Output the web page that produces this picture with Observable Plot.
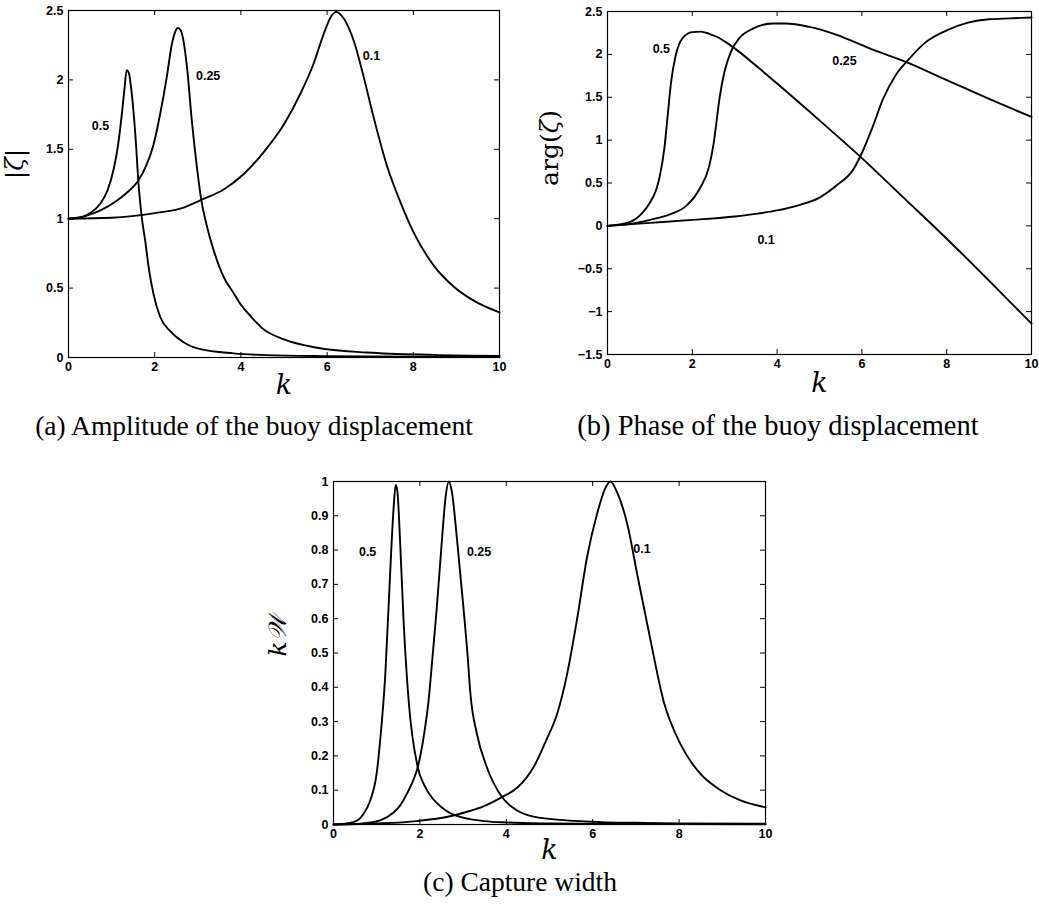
<!DOCTYPE html>
<html><head><meta charset="utf-8">
<script src="https://cdn.jsdelivr.net/npm/d3@7"></script>
<script src="https://cdn.jsdelivr.net/npm/@observablehq/plot@0.6"></script>
<style>
body{margin:0;background:#fff;width:1039px;height:908px;position:relative;overflow:hidden}
.panel{position:absolute}
.cap{position:absolute;font-family:"Liberation Serif",serif;font-size:27.5px;color:#000;white-space:nowrap;line-height:1;transform:translate(-50%,-50%)}
</style></head><body>
<div id="pa" class="panel" style="left:0;top:0"></div>
<div id="pb" class="panel" style="left:519px;top:0"></div>
<div id="pc" class="panel" style="left:250px;top:440px"></div>
<div class="cap" style="left:254px;top:426px">(a) Amplitude of the buoy displacement</div>
<div class="cap" style="left:778px;top:426px;font-size:28.5px">(b) Phase of the buoy displacement</div>
<div class="cap" style="left:520px;top:882px">(c) Capture width</div>
<script>
// ---------- data ----------
const xTicks = [0, 2, 4, 6, 8, 10];
const ampTicks = [0, 0.5, 1, 1.5, 2, 2.5];
const phaseTicks = [-1.5, -1, -0.5, 0, 0.5, 1, 1.5, 2, 2.5];
const cwTicks = [0, 0.1, 0.2, 0.3, 0.4, 0.5, 0.6, 0.7, 0.8, 0.9, 1];
const seriesNames = ["0.5", "0.25", "0.1"];

// (a) amplitude |zeta|
const ampK05 = [0,0.3,0.5,0.74,0.9,1.05,1.15,1.24,1.3,1.35,1.4,1.45,1.55,1.63,1.7,1.78,1.86,1.97,2.13,2.36,2.67,3.06,3.83,4.6,6,8,10];
const amp05  = [1.0,1.01,1.04,1.11,1.2,1.36,1.53,1.76,1.94,2.07,2.05,1.95,1.61,1.23,1.01,0.84,0.65,0.46,0.29,0.19,0.11,0.06,0.03,0.017,0.01,0.006,0.004];
const ampK025 = [0,0.4,0.74,1.12,1.4,1.61,1.8,1.97,2.13,2.28,2.4,2.48,2.54,2.6,2.65,2.75,2.86,2.98,3.08,3.2,3.37,3.6,3.83,4.0,4.22,4.5,5.0,5.77,6.93,8.48,10];
const amp025  = [1,1.02,1.06,1.13,1.2,1.27,1.38,1.53,1.76,2.02,2.26,2.35,2.375,2.36,2.31,2.09,1.71,1.37,1.135,0.96,0.77,0.58,0.465,0.38,0.3,0.21,0.13,0.07,0.036,0.019,0.012];
const ampK01 = [0,1,2,2.67,3.08,3.6,4.06,4.53,5,5.38,5.69,5.92,6.1,6.21,6.39,6.62,6.85,7.08,7.39,7.7,8.01,8.48,8.94,9.4,10];
const amp01  = [1,1.007,1.04,1.08,1.135,1.21,1.32,1.48,1.68,1.9,2.12,2.33,2.46,2.49,2.44,2.28,2.02,1.73,1.38,1.12,0.9,0.66,0.51,0.41,0.325];
const ampLabelK = [0.74, 3.24, 7.03];
const ampLabelV = [1.67, 2.03, 2.17];

// (b) phase arg(zeta)
const phK05 = [0,0.5,0.8,1.0,1.14,1.22,1.34,1.42,1.5,1.61,1.77,2.0,2.2,2.4,2.6,2.8,3.0,3.5,4,5,6,7,8,9,10];
const ph05  = [0,0.04,0.14,0.27,0.41,0.55,0.9,1.29,1.68,1.99,2.19,2.26,2.265,2.24,2.2,2.14,2.07,1.87,1.66,1.23,0.79,0.32,-0.15,-0.64,-1.14];
const phK025 = [0,0.5,1,1.5,1.85,2.17,2.4,2.5,2.56,2.64,2.76,2.91,3.11,3.43,3.9,4.2,4.76,5.39,6.18,7.05,8,9,10];
const ph025  = [0,0.02,0.07,0.14,0.23,0.43,0.7,0.95,1.17,1.48,1.8,2.03,2.19,2.3,2.36,2.36,2.32,2.23,2.07,1.91,1.7,1.48,1.27];
const phK01 = [0,1,2,3,3.5,4,4.5,5,5.4,5.8,6.0,6.25,6.5,6.8,7.1,7.5,8,8.5,9,9.5,10];
const ph01  = [0,0.035,0.07,0.11,0.14,0.18,0.24,0.33,0.47,0.66,0.85,1.15,1.48,1.76,1.94,2.14,2.28,2.37,2.41,2.42,2.43];
const phLabelK = [1.27, 5.59, 3.74];
const phLabelV = [2.06, 1.92, -0.17];

// (c) capture width kW
const cwK05 = [0,0.46,0.69,0.85,1.0,1.08,1.2,1.31,1.39,1.44,1.48,1.54,1.62,1.74,1.95,2.1,2.3,2.5,2.7,3.0,3.5,4,5,6,8,10];
const cw05  = [0,0.007,0.03,0.07,0.15,0.245,0.44,0.73,0.92,0.99,0.97,0.83,0.6,0.36,0.167,0.115,0.075,0.05,0.033,0.02,0.01,0.006,0.003,0.002,0.001,0.0005];
const cwK025 = [0,0.5,0.8,1.08,1.39,1.54,1.7,1.85,1.95,2.08,2.2,2.3,2.39,2.51,2.6,2.67,2.74,2.86,3.01,3.1,3.17,3.32,3.55,3.9,4.25,4.63,5.4,6.2,7,8,10];
const cw025  = [0,0.001,0.005,0.012,0.035,0.055,0.09,0.13,0.167,0.25,0.36,0.5,0.63,0.83,0.96,1.0,0.97,0.83,0.63,0.5,0.38,0.264,0.167,0.08,0.041,0.023,0.012,0.007,0.005,0.003,0.002];
const cwK01 = [0,1,1.93,2.7,3.17,3.47,3.9,4.25,4.63,4.94,5.17,5.41,5.64,5.87,6.1,6.29,6.41,6.56,6.8,7.03,7.34,7.64,8.03,8.49,8.96,9.42,10];
const cw01  = [0,0.003,0.01,0.024,0.04,0.053,0.08,0.107,0.167,0.25,0.32,0.44,0.6,0.78,0.905,0.98,1.0,0.97,0.876,0.73,0.536,0.36,0.235,0.148,0.1,0.07,0.05];
const cwLabelK = [0.79, 3.37, 7.14];
const cwLabelV = [0.795, 0.795, 0.803];

// ---------- helpers ----------
function rows(pairs) {
  const out = [];
  pairs.forEach(([ks, vs], i) => ks.forEach((k, j) => out.push({k, v: vs[j], s: seriesNames[i]})));
  return out;
}
function labelRows(ks, vs) { return ks.map((k, i) => ({k, v: vs[i], t: seriesNames[i]})); }
const fmt = d => d === 0 ? "0" : (d < 0 ? "\u2212" : "") + Math.abs(d);

function panel(opts) {
  const {width, height, margins, yDomain, yTicks, data, labels, yLabel, yLabelHTML, ylX, ylY, klDy} = opts;
  const [mt, mr, mb, ml] = margins;
  const ph = height - mt - mb, pw = width - ml - mr;
  const tl = 5;
  const svg = Plot.plot({
    width, height, marginTop: mt, marginRight: mr, marginBottom: mb, marginLeft: ml,
    style: {fontFamily: "'Liberation Sans', Arial, sans-serif", fontSize: "12.5px", fontWeight: "bold", background: "transparent", color: "black", overflow: "visible"},
    x: {domain: [0, 10]},
    y: {domain: yDomain},
    marks: [
      Plot.frame({stroke: "black", strokeWidth: 1.2}),
      Plot.tickX(xTicks, {x: d => d, insetTop: ph - tl, stroke: "black"}),
      Plot.tickX(xTicks, {x: d => d, insetBottom: ph - tl, stroke: "black"}),
      Plot.tickY(yTicks, {y: d => d, insetRight: pw - tl, stroke: "black"}),
      Plot.tickY(yTicks, {y: d => d, insetLeft: pw - tl, stroke: "black"}),
      Plot.axisX({ticks: xTicks, tickSize: 0, tickPadding: 5, tickFormat: fmt, label: null}),
      Plot.axisY({ticks: yTicks, tickSize: 0, tickPadding: 5, tickFormat: fmt, label: null}),
      Plot.line(data, {x: "k", y: "v", z: "s", stroke: "black", strokeWidth: 1.9, curve: "monotone-x"}),
      Plot.text(labels, {x: "k", y: "v", text: "t", fontSize: 12.5, fontWeight: "bold"}),
      Plot.text(["k"], {frameAnchor: "bottom", dy: klDy, lineAnchor: "middle", fontFamily: "'DejaVu Serif', serif", fontStyle: "italic", fontWeight: "normal", fontSize: 27}),
      Plot.text([yLabel], {frameAnchor: "left", rotate: -90, textAnchor: "middle", lineAnchor: "middle", fontFamily: "'DejaVu Serif', serif", fontWeight: "normal", fontSize: 25})
    ]
  });
  svg.querySelectorAll("text").forEach(t => {
    if (t.textContent === yLabel) {
      t.innerHTML = yLabelHTML;
      const g = t.parentNode;
      g.removeAttribute("transform");
      t.removeAttribute("x"); t.removeAttribute("y");
      t.setAttribute("text-anchor", "middle");
      t.setAttribute("transform", `translate(${ylX},${ylY}) rotate(-90)`);
    }
  });
  return svg;
}

document.getElementById("pa").appendChild(panel({
  width: 520, height: 400, margins: [10, 21, 43, 68], yDomain: [0, 2.5], yTicks: ampTicks,
  data: rows([[ampK05, amp05], [ampK025, amp025], [ampK01, amp01]]),
  labels: labelRows(ampLabelK, ampLabelV),
  yLabel: "|ζ|", yLabelHTML: '|<tspan font-style="italic">ζ</tspan>|', ylX: 23, ylY: 164, klDy: 28
}));
document.getElementById("pb").appendChild(panel({
  width: 520, height: 400, margins: [11, 8, 46, 88], yDomain: [-1.5, 2.5], yTicks: phaseTicks,
  data: rows([[phK05, ph05], [phK025, ph025], [phK01, ph01]]),
  labels: labelRows(phLabelK, phLabelV),
  yLabel: "arg(ζ)", yLabelHTML: 'arg(<tspan font-style="italic">ζ</tspan>)', ylX: 39, ylY: 148, klDy: 29
}));
document.getElementById("pc").appendChild(panel({
  width: 540, height: 430, margins: [41, 25, 46, 83], yDomain: [0, 1], yTicks: cwTicks,
  data: rows([[cwK05, cw05], [cwK025, cw025], [cwK01, cw01]]),
  labels: labelRows(cwLabelK, cwLabelV),
  yLabel: "kW", yLabelHTML: '<tspan font-style="italic">k</tspan><tspan font-style="italic">\u{1D4B2}</tspan>', ylX: 36, ylY: 196, klDy: 26
}));
</script>
</body></html>
